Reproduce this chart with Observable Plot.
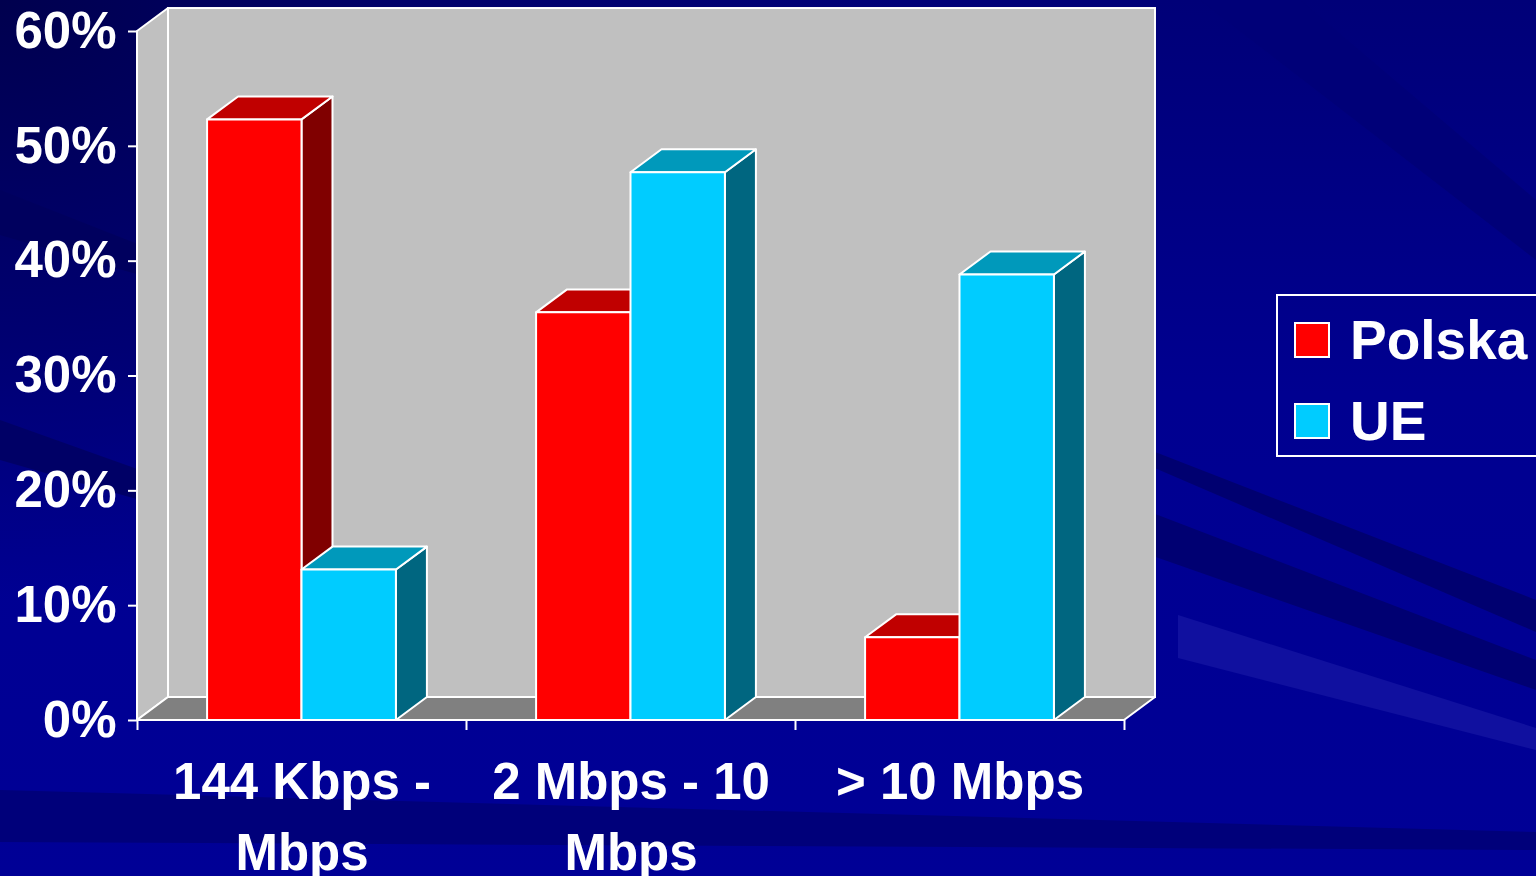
<!DOCTYPE html>
<html>
<head>
<meta charset="utf-8">
<script src="https://cdn.jsdelivr.net/npm/d3@7"></script>
<script src="https://cdn.jsdelivr.net/npm/@observablehq/plot@0.6"></script>
<style>
html, body { margin: 0; padding: 0; width: 1536px; height: 876px; overflow: hidden; }
body {
  position: relative;
  font-family: 'Liberation Sans', Arial, sans-serif;
  background:
    radial-gradient(ellipse 900px 600px at 0% 0%, #00004e 0%, #00006a 45%, rgba(0,0,120,0) 100%),
    linear-gradient(to bottom, #000078 0%, #000090 45%, #000096 100%);
}
.band { position: absolute; left: 0; top: 0; width: 1536px; height: 876px; }
#chart { position: absolute; left: 0; top: 0; }
#legend {
  position: absolute; left: 1276px; top: 294px; width: 300px; height: 163px;
  box-sizing: border-box; border: 2px solid #fff;
}
.sw { position: absolute; left: 16px; width: 36px; height: 36px; box-sizing: border-box; border: 2px solid #fff; }
.lab { position: absolute; left: 72px; font-size: 55px; font-weight: bold; color: #fff; line-height: 1; white-space: nowrap; }
</style>
</head>
<body>
<div class="band" style="background:#000070;clip-path:polygon(1150px 450px,1536px 600px,1536px 632px,1150px 466px)"></div>
<div class="band" style="background:#000072;clip-path:polygon(1150px 512px,1536px 660px,1536px 690px,1150px 555px)"></div>
<div class="band" style="background:#10109f;clip-path:polygon(1178px 615px,1536px 728px,1536px 750px,1178px 658px)"></div>
<div class="band" style="background:#000078;clip-path:polygon(1200px 0px,1300px 0px,1536px 200px,1536px 260px)"></div>
<div class="band" style="background:#00007a;clip-path:polygon(0px 790px,1536px 832px,1536px 850px,0px 842px)"></div>
<div class="band" style="background:#00005e;clip-path:polygon(0px 190px,140px 245px,140px 275px,0px 235px)"></div>
<div class="band" style="background:#000066;clip-path:polygon(0px 420px,140px 470px,140px 500px,0px 460px)"></div>
<div id="chart"></div>
<div id="legend"></div>
<script>
// ---- data ----
const categories = ["144 Kbps -\nMbps", "2 Mbps - 10\nMbps", "> 10 Mbps"];
const series = ["Polska", "UE"];
const polska = [52.3, 35.5, 7.2];
const ue = [13.1, 47.7, 38.8];
const yTicks = [0, 10, 20, 30, 40, 50, 60];

// ---- styling / geometry constants ----
const colors = {
  Polska: {front: "#ff0000", top: "#c00000", side: "#800000"},
  UE: {front: "#00ccff", top: "#0099bb", side: "#006680"}
};
const D = 0.0942;   // depth in x units
const E = 2.0;      // depth in y units (%)
const W = 0.287;    // bar width in x units
const xMin = -0.5, xMax = categories.length - 0.5, yMax = 60;

const valuesBySeries = {Polska: polska, UE: ue};

const barMarks = [];
series.forEach((s, si) => {
  const vals = valuesBySeries[s];
  const front = [], top = [], side = [];
  vals.forEach((v, i) => {
    const x0 = si === 0 ? i - W : i;
    const x1 = si === 0 ? i : i + W;
    const id = s + i;
    front.push({x1: x0, x2: x1, y1: 0, y2: v});
    top.push({id, y: v, xa: x0, xb: x1}, {id, y: v + E, xa: x0 + D, xb: x1 + D});
    side.push({id, x: x1, ya: 0, yb: v}, {id, x: x1 + D, ya: E, yb: v + E});
  });
  const c = colors[s];
  barMarks.push(
    Plot.areaY(side, {x: "x", y1: "ya", y2: "yb", z: "id", fill: c.side, stroke: "white", strokeWidth: 2, strokeLinejoin: "round"}),
    Plot.areaX(top, {y: "y", x1: "xa", x2: "xb", z: "id", fill: c.top, stroke: "white", strokeWidth: 2, strokeLinejoin: "round"}),
    Plot.rect(front, {x1: "x1", x2: "x2", y1: "y1", y2: "y2", fill: c.front, stroke: "white", strokeWidth: 2, strokeLinejoin: "round"})
  );
});

const backWall = [{x1: xMin + D, x2: xMax + D, y1: E, y2: yMax + E}];
const leftWall = [{x: xMin, ya: 0, yb: yMax}, {x: xMin + D, ya: E, yb: yMax + E}];
const floor = [{y: 0, xa: xMin, xb: xMax}, {y: E, xa: xMin + D, xb: xMax + D}];
const boundaries = d3.range(categories.length + 1).map(i => i - 0.5);

const chart = Plot.plot({
  width: 1536,
  height: 876,
  marginLeft: 137,
  marginRight: 412,
  marginTop: 31,
  marginBottom: 156,
  x: {domain: [xMin, xMax]},
  y: {domain: [0, yMax]},
  style: {background: "transparent", color: "white", fontFamily: "'Liberation Sans', Arial, sans-serif", fontWeight: "bold", overflow: "visible"},
  marks: [
    Plot.rect(backWall, {x1: "x1", x2: "x2", y1: "y1", y2: "y2", fill: "#c0c0c0", stroke: "white", strokeWidth: 2}),
    Plot.areaY(leftWall, {x: "x", y1: "ya", y2: "yb", fill: "#c0c0c0", stroke: "white", strokeWidth: 2}),
    Plot.areaX(floor, {y: "y", x1: "xa", x2: "xb", fill: "#808080", stroke: "white", strokeWidth: 2}),
    ...barMarks,
    Plot.axisY(yTicks, {tickFormat: d => d + "%", tickSize: 9, tickPadding: 12, fontSize: 51, fontWeight: "bold", color: "white", strokeWidth: 2}),
    Plot.axisX(boundaries, {tickFormat: () => "", tickSize: 10, color: "white", strokeWidth: 2}),
    Plot.text(categories, {x: (d, i) => i, y: () => 0, text: d => d, lineAnchor: "top", dy: 29, fontSize: 51, lineHeight: 1.38, fill: "white", fontWeight: "bold"})
  ]
});
document.getElementById("chart").appendChild(chart);

// legend
const legend = document.getElementById("legend");
series.forEach((s, i) => {
  const sw = document.createElement("div");
  sw.className = "sw";
  sw.style.top = (26 + i * 81) + "px";
  sw.style.background = colors[s].front;
  legend.appendChild(sw);
  const lab = document.createElement("div");
  lab.className = "lab";
  lab.style.top = (17 + i * 81) + "px";
  lab.textContent = s;
  legend.appendChild(lab);
});
</script>
</body>
</html>
